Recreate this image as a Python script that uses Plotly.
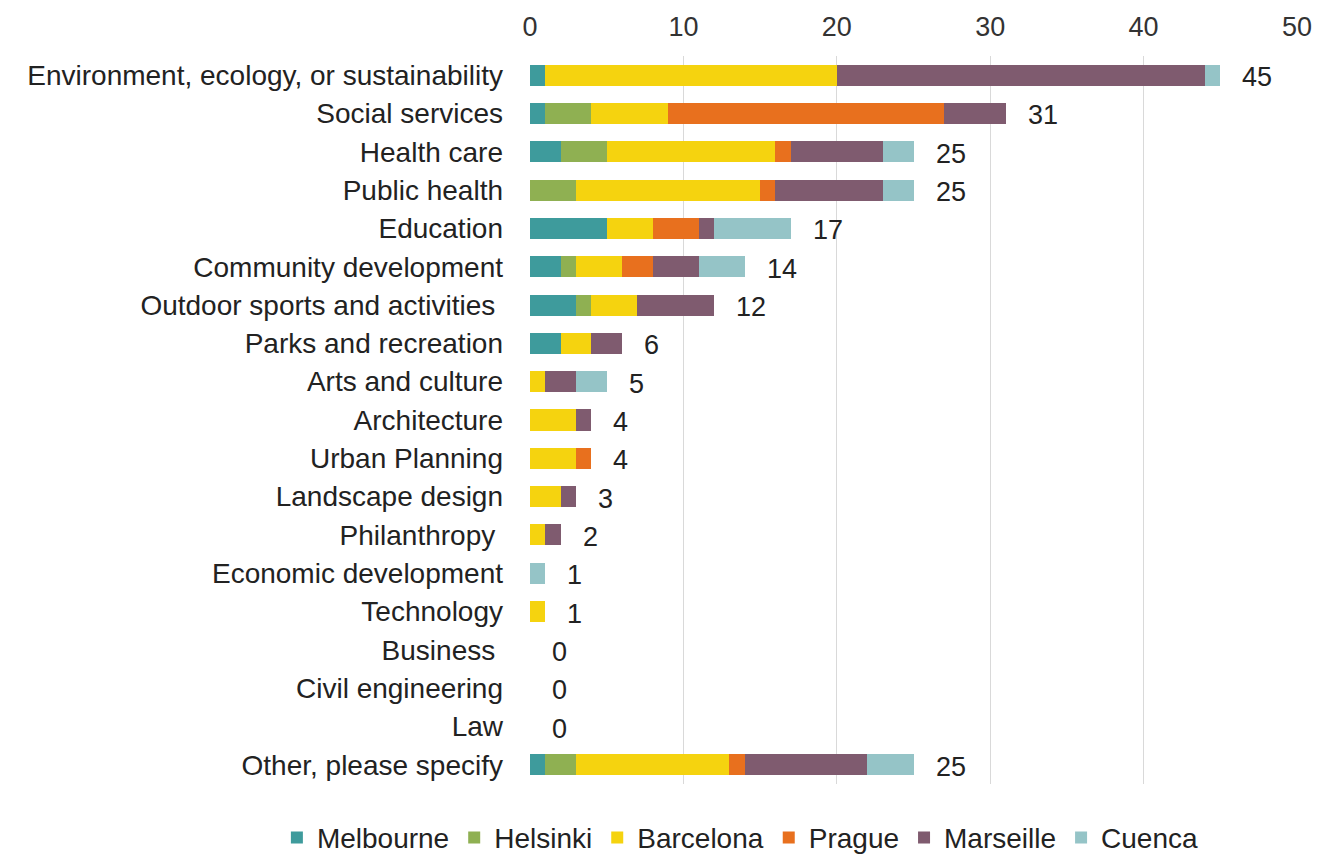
import plotly.graph_objects as go

categories = [
    "Environment, ecology, or sustainability",
    "Social services",
    "Health care",
    "Public health",
    "Education",
    "Community development",
    "Outdoor sports and activities\u00a0",
    "Parks and recreation",
    "Arts and culture",
    "Architecture",
    "Urban Planning",
    "Landscape design",
    "Philanthropy\u00a0",
    "Economic development",
    "Technology",
    "Business\u00a0",
    "Civil engineering",
    "Law",
    "Other, please specify",
]

melbourne = [1, 1, 2, 0, 5, 2, 3, 2, 0, 0, 0, 0, 0, 0, 0, 0, 0, 0, 1]
helsinki  = [0, 3, 3, 3, 0, 1, 1, 0, 0, 0, 0, 0, 0, 0, 0, 0, 0, 0, 2]
barcelona = [19, 5, 11, 12, 3, 3, 3, 2, 1, 3, 3, 2, 1, 0, 1, 0, 0, 0, 10]
prague    = [0, 18, 1, 1, 3, 2, 0, 0, 0, 0, 1, 0, 0, 0, 0, 0, 0, 0, 1]
marseille = [24, 4, 6, 7, 1, 3, 5, 2, 2, 1, 0, 1, 1, 0, 0, 0, 0, 0, 8]
cuenca    = [1, 0, 2, 2, 5, 3, 0, 0, 2, 0, 0, 0, 0, 1, 0, 0, 0, 0, 3]

series = [
    ("Melbourne", melbourne, "#3E9B9C"),
    ("Helsinki", helsinki, "#8FB052"),
    ("Barcelona", barcelona, "#F5D30F"),
    ("Prague", prague, "#E8701E"),
    ("Marseille", marseille, "#7F5B6F"),
    ("Cuenca", cuenca, "#95C4C7"),
]

x_ticks = [0, 10, 20, 30, 40, 50]

FONT = "Liberation Sans, Arial, sans-serif"

fig = go.Figure()
for name, vals, color in series:
    fig.add_trace(go.Bar(
        y=categories, x=vals, name=name, orientation="h",
        marker=dict(color=color, line=dict(width=0)),
    ))

totals = [sum(v) for v in zip(melbourne, helsinki, barcelona, prague, marseille, cuenca)]
for cat, tot in zip(categories, totals):
    fig.add_annotation(
        x=tot, y=cat, text=str(tot), showarrow=False,
        xanchor="left", xshift=20, yshift=-2,
        font=dict(size=27, color="#222222", family=FONT),
    )

fig.update_layout(
    barmode="stack",
    bargap=0.45,
    width=1320, height=849,
    margin=dict(l=522, r=31, t=48, b=73, autoexpand=False),
    paper_bgcolor="white", plot_bgcolor="white",
    font=dict(family=FONT, size=24, color="#222222"),
    legend=dict(
        orientation="h", x=-0.33, xanchor="left", y=-0.074, yanchor="middle",
        font=dict(size=28, color="#222222", family=FONT), traceorder="normal",
        itemwidth=30,
    ),
    xaxis=dict(
        side="top", range=[0, 50], tickvals=x_ticks,
        showgrid=True, gridcolor="#D9D9D9", gridwidth=1,
        zeroline=False, showline=False, automargin=False,
        tickfont=dict(size=27, color="#333333"),
        ticks="", ticklabelstandoff=14,
    ),
    yaxis=dict(
        autorange="reversed", showgrid=False, zeroline=False, automargin=False,
        tickfont=dict(size=28, color="#222222"),
        ticks="", ticklabelstandoff=26,
    ),
)

fig.write_html("out.html")
